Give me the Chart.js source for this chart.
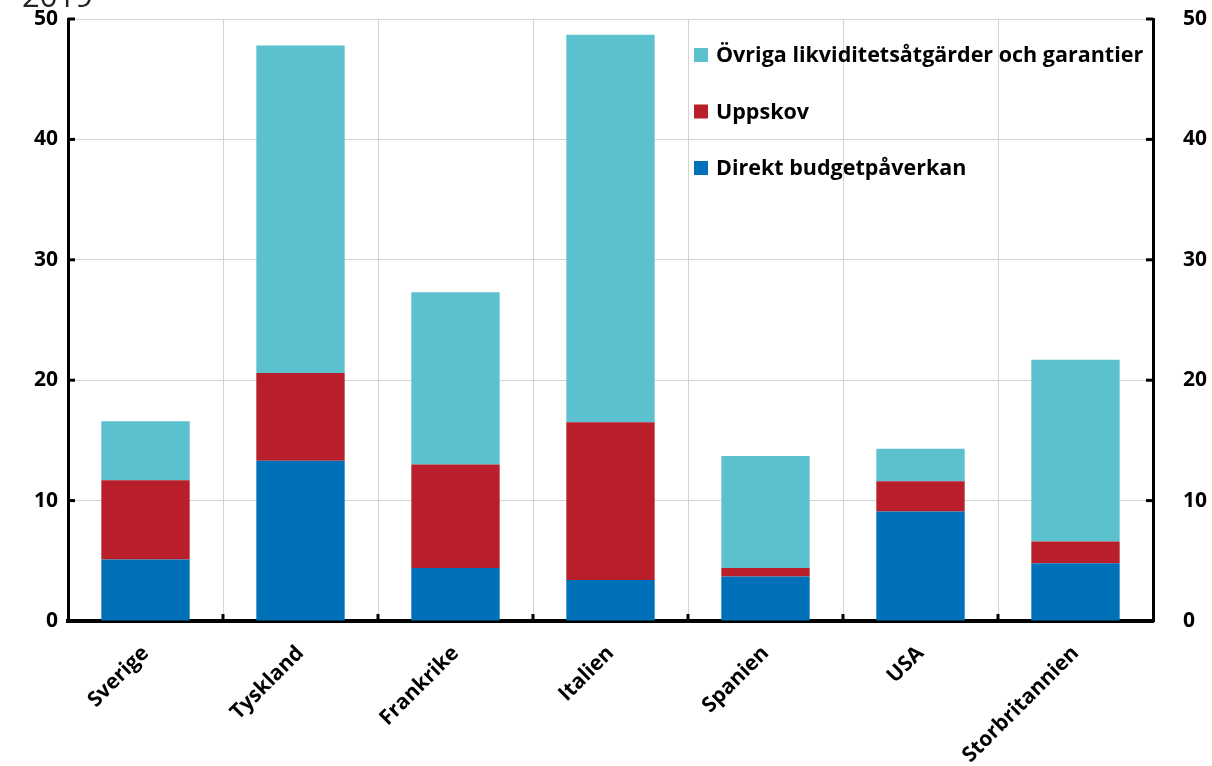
<!DOCTYPE html>
<html>
<head>
<meta charset="utf-8">
<script src="https://cdn.jsdelivr.net/npm/chart.js@4/dist/chart.umd.min.js"></script>
<style>
  html, body { margin: 0; padding: 0; background: #fff; }
  #wrap { width: 1212px; height: 766px; }
</style>
</head>
<body>
<div id="wrap"><canvas id="chart" width="1212" height="766"></canvas></div>
<script>
const countries = ['Sverige', 'Tyskland', 'Frankrike', 'Italien', 'Spanien', 'USA', 'Storbritannien'];
const direkt = [5.1, 13.3, 4.4, 3.4, 3.7, 9.1, 4.8];
const uppskov = [6.6, 7.3, 8.6, 13.1, 0.7, 2.5, 1.8];
const ovriga = [4.9, 27.2, 14.3, 32.2, 9.3, 2.7, 15.1];
const yTicks = [0, 10, 20, 30, 40, 50];

const FONT = '"Open Sans", Lato, sans-serif';

// legend drawn inside the plot, top-right, newest series first
const insideLegend = {
    id: 'insideLegend',
    afterDraw(chart) {
        const ctx = chart.ctx;
        const rows = chart.data.datasets.slice().reverse();
        ctx.save();
        ctx.font = 'bold 21.5px ' + FONT;
        ctx.textBaseline = 'middle';
        rows.forEach((ds, i) => {
            const y = 55 + i * 56.5;
            ctx.fillStyle = ds.backgroundColor;
            ctx.fillRect(694, y - 7, 14, 14);
            ctx.fillStyle = '#000';
            ctx.fillText(ds.label, 716, y + 1);
        });
        // year caption, clipped at the top edge
        ctx.font = '31px ' + FONT;
        ctx.fillStyle = '#222';
        ctx.textBaseline = 'alphabetic';
        ctx.fillText('2019', 22, 7);
        ctx.restore();
    }
};

// short inward tick marks on the axes
const innerTicks = {
    id: 'innerTicks',
    afterDraw(chart) {
        const ctx = chart.ctx;
        const area = chart.chartArea;
        const x = chart.scales.x;
        const y = chart.scales.y;
        ctx.save();
        ctx.fillStyle = '#000';
        yTicks.forEach(v => {
            const py = y.getPixelForValue(v);
            ctx.fillRect(area.left, py - 1.5, 7, 3);
            ctx.fillRect(area.right - 7, py - 1.5, 7, 3);
        });
        for (let i = 1; i < countries.length; i++) {
            const px = (x.getPixelForValue(i - 1) + x.getPixelForValue(i)) / 2;
            ctx.fillRect(px - 1.5, area.bottom - 7, 3, 7);
        }
        ctx.restore();
    }
};

const yTickOpts = {
    color: '#000',
    font: { family: FONT, size: 21, weight: 'bold' },
    stepSize: 10,
    padding: 10
};

function noPad(scale) {
    scale.paddingTop = 0;
    scale.paddingBottom = 0;
    scale.paddingLeft = 0;
    scale.paddingRight = 0;
}

new Chart(document.getElementById('chart'), {
    type: 'bar',
    data: {
        labels: countries,
        datasets: [
            { label: 'Direkt budgetpåverkan', data: direkt, backgroundColor: '#0070b8' },
            { label: 'Uppskov', data: uppskov, backgroundColor: '#b81f2b' },
            { label: 'Övriga likviditetsåtgärder och garantier', data: ovriga, backgroundColor: '#5bc1cf' }
        ]
    },
    options: {
        responsive: false,
        animation: false,
        layout: { padding: { top: 19, left: 0, right: 0, bottom: 0 } },
        datasets: { bar: { categoryPercentage: 0.57, barPercentage: 1 } },
        plugins: { legend: { display: false }, tooltip: { enabled: false } },
        scales: {
            x: {
                stacked: true,
                grid: { color: '#d4d4d4', lineWidth: 1, drawTicks: false, offset: true },
                border: { color: '#000', width: 4 },
                ticks: {
                    color: '#000',
                    font: { family: FONT, size: 21, weight: 'bold' },
                    minRotation: 45,
                    maxRotation: 45,
                    padding: 20
                },
                afterFit(scale) { scale.height = 145; noPad(scale); }
            },
            y: {
                stacked: true,
                min: 0,
                max: 50,
                grid: { color: '#d4d4d4', lineWidth: 1, drawTicks: false },
                border: { color: '#000', width: 3 },
                ticks: yTickOpts,
                afterFit(scale) { scale.width = 68; noPad(scale); }
            },
            y2: {
                position: 'right',
                min: 0,
                max: 50,
                grid: { display: false, drawTicks: false },
                border: { color: '#000', width: 3 },
                ticks: Object.assign({}, yTickOpts, { padding: 30 }),
                afterFit(scale) { scale.width = 59; noPad(scale); }
            }
        }
    },
    plugins: [insideLegend, innerTicks]
});
</script>
</body>
</html>
